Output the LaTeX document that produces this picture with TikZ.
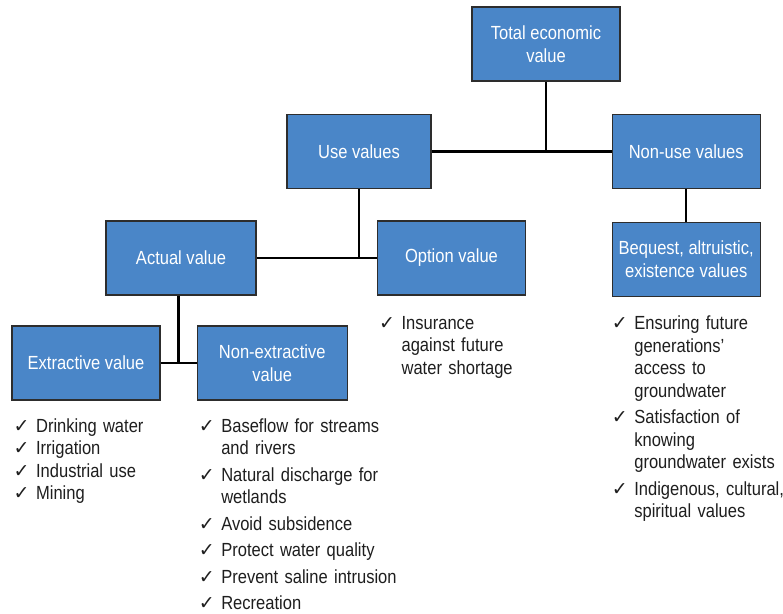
\documentclass[tikz,border=0pt]{standalone}
\usepackage{fontspec}
\setmainfont{Liberation Sans}[FakeStretch=0.87]
\newfontfamily\chkfont{DejaVu Sans}
\usetikzlibrary{positioning,calc}

\definecolor{tevblue}{RGB}{74,134,200}
\definecolor{tevedge}{RGB}{45,45,45}
\definecolor{tevtext}{RGB}{30,30,30}

\providecommand{\chkmark}{{\chkfont\fontsize{19}{19}\selectfont ✓}}
\providecommand{\chkitem}[1]{\par\noindent\hangindent=22.5pt\hangafter=1%
  \makebox[22.5pt][l]{\chkmark}#1\par}

\tikzset{
  tevbox/.style  ={draw=tevedge, line width=1.2pt, fill=tevblue, text=white,
                   align=center, minimum width=148pt, minimum height=74pt,
                   inner sep=2pt, font=\fontsize{19}{23}\selectfont},
  tevlist/.style ={anchor=base west, inner sep=0pt, text width=200pt, align=left,
                   text=tevtext, font=\fontsize{19}{22.5}\selectfont},
  tevgap/.style  ={execute at begin node={\setlength{\parskip}{4pt}}},
  tevconn/.style ={line width=2.4pt, draw=black},
}

\begin{document}
\begin{tikzpicture}[x=1pt, y=-1pt]
  \useasboundingbox (0,0) rectangle (783,613);

  % ---- top level ----
  \node[tevbox] (total) at (546,44) {Total economic\\value};
  \node[tevbox, minimum width=144pt] (use) at (359,151.5) {Use values};
  \node[tevbox, right=180pt of use] (nonuse) {Non-use values};

  % ---- second level ----
  \node[tevbox, minimum width=150pt] (actual) at (181,258) {Actual value};
  \node[tevbox] (option) at (451.5,258) {Option value};
  \node[tevbox, below=33pt of nonuse] (bequest) {Bequest, altruistic,\\existence values};

  % ---- third level ----
  \node[tevbox] (extr) at (86,363) {Extractive value};
  \node[tevbox, minimum width=150pt, right=36pt of extr] (nonextr) {Non-extractive\\value};

  % ---- check lists ----
  \node[tevlist] (extrlist) at ($(extr.south west)+(2,9)$)
    {\chkitem{Drinking water}\chkitem{Irrigation}\chkitem{Industrial use}\chkitem{Mining}};
  \node[tevlist, tevgap] (nonextrlist) at ($(nonextr.south west)+(2,5)$)
    {\chkitem{Baseflow for streams\newline and rivers}%
     \chkitem{Natural discharge for\newline wetlands}%
     \chkitem{Avoid subsidence}\chkitem{Protect water quality}%
     \chkitem{Prevent saline intrusion}\chkitem{Recreation}};
  \node[tevlist] (optionlist) at ($(option.south west)+(2,11)$)
    {\chkitem{Insurance\newline against future\newline water shortage}};
  \node[tevlist, tevgap] (bequestlist) at ($(bequest.south west)+(0,6)$)
    {\chkitem{Ensuring future\newline generations’\newline access to\newline groundwater}%
     \chkitem{Satisfaction of\newline knowing\newline groundwater exists}%
     \chkitem{Indigenous, cultural,\newline spiritual values}};

  % ---- connectors ----
  \coordinate (jtop) at (total |- use);
  \draw[tevconn] (use) -- (nonuse);
  \draw[tevconn] (total) -- (jtop);
  \draw[tevconn] (nonuse) -- (bequest);
  \draw[tevconn] (actual) -- (option);
  \draw[tevconn] (use) -- (use |- actual);
  \coordinate (jlow) at ($(extr.east)!0.5!(nonextr.west)$);
  \draw[tevconn] (extr) -- (nonextr);
  \draw[tevconn] (jlow |- actual.south) -- (jlow);

\end{tikzpicture}
\end{document}
